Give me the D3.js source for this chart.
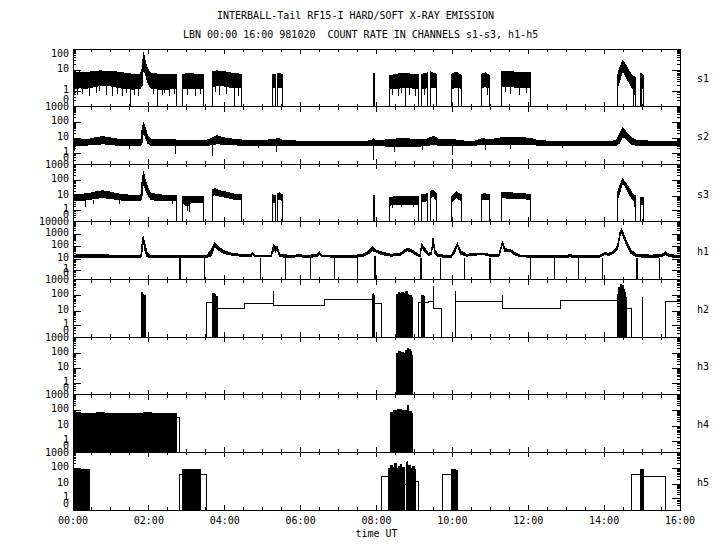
<!DOCTYPE html>
<html><head><meta charset="utf-8">
<script src="https://cdn.jsdelivr.net/npm/d3@7"></script>
<style>
body{margin:0;background:#fff}
text{font-family:"DejaVu Sans Mono","Liberation Mono",monospace;font-size:10px;fill:#000;white-space:pre}
</style>
</head><body><svg id="c" width="720" height="550"></svg>
<script>
// ---------------- data ----------------
const titleLine1 = "INTERBALL-Tail RF15-I HARD/SOFT X-RAY EMISSION";
const titleLine2 = "LBN 00:00 16:00 981020  COUNT RATE IN CHANNELS s1-s3, h1-h5";
const xTickLabels = ["00:00","02:00","04:00","06:00","08:00","10:00","12:00","14:00","16:00"];
const xTitle = "time UT";
const panelNames = ["s1","s2","s3","h1","h2","h3","h4","h5"];
const panelTops = [100,1000,1000,10000,1000,1000,1000,1000];

// band segments: [hour, low, high]
const s1Bands = [
 [[0,1.3,8],[0.18,1.5,9],[0.33,1.4,8],[0.53,1.7,9.5],[0.73,2,10],[0.93,2,9.5],[1.13,1.7,9],[1.33,1.4,8],[1.57,1.3,7],[1.77,1.4,7],[1.82,2,12],[1.86,20,70],[1.9,8,30],[1.97,3,12],[2.04,1.5,8],[2.27,1.3,7],[2.52,1.3,7],[2.74,1.4,7]],
 [[2.88,1.3,7],[3.07,1.4,7.5],[3.27,1.4,7],[3.44,1.4,7]],
 [[3.67,1.6,9],[3.79,2,10],[3.97,1.9,9.5],[4.17,1.6,8],[4.43,1.5,7]],
 [[5.26,1.6,7],[5.35,1.6,7]],
 [[5.38,1.6,8],[5.52,1.5,7]],
 [[7.91,2,8],[7.95,2,8]],
 [[8.34,1.3,6],[8.52,1.4,7],[8.72,1.6,8],[8.92,1.5,7],[9.1,1.4,7]],
 [[9.19,1.4,7],[9.34,1.5,8]],
 [[9.43,1.6,9],[9.57,1.5,7]],
 [[9.99,1.4,7],[10.12,1.7,9],[10.23,1.4,6]],
 [[10.76,1.6,7],[10.87,1.7,8],[10.98,1.5,6]],
 [[11.29,1.7,9],[11.57,1.7,9],[11.82,1.6,8.5],[12.07,1.6,8]],
 [[14.35,1.5,6],[14.42,4,15],[14.49,10,30],[14.56,6,20],[14.65,3,10],[14.74,1.5,6],[14.83,1.3,5]],
 [[14.95,1.5,8],[15.04,1.3,6]]
];
const s1Drops = [[0.05,1.3,0.7],[0.11,1.4,0.6],[0.25,1.4,0.7],[0.43,1.4,0.5],[0.63,1.7,0.8],[0.7,2,1],[0.88,2,0.6],[1.03,1.7,0.5],[1.18,1.7,0.7],[1.31,1.4,0.5],[1.4,1.3,0.8],[1.52,1.3,0],[1.62,1.3,0.6],[1.72,1.4,0.5],[2.12,1.4,0.7],[2.22,1.3,0],[2.37,1.3,0.6],[2.4,1.3,0.8],[2.55,1.3,0.5],[2.67,1.4,0.7],[3.02,1.3,0.6],[3.22,1.4,0.5],[3.35,1.4,0.7],[3.75,2,0.9],[3.87,1.9,0.6],[4.05,1.9,0.7],[4.27,1.6,0],[4.37,1.5,0.5],[8.42,1.3,0.6],[8.59,1.4,0.5],[8.65,1.4,0.8],[8.77,1.6,0],[8.87,1.5,0.6],[9.04,1.4,0.5],[9.27,1.4,0.6],[10.17,1.4,0],[10.92,1.6,0.6],[11.4,1.7,0.9],[11.52,1.7,0.7],[11.77,1.6,0.6],[11.95,1.6,0.8],[14.77,1.5,0],[14.8,1.4,0.6],[14.99,1.5,0]];

const s2Bands = [[
 [0,3.5,8],[0.23,3.5,8],[0.43,3.8,9],[0.58,4,11],[0.78,4.5,13],[0.98,4,11],[1.18,3.6,9],[1.38,3.4,8],[1.6,3.3,8],[1.79,3.4,8],[1.82,5,35],[1.86,35,110],[1.9,14,50],[1.97,5,14],[2.05,3.6,9],[2.27,3.5,8],[2.52,3.4,8],[2.69,3.2,8],[2.87,3.5,7.5],[3.17,3.5,7.5],[3.52,3.5,7.5],[3.71,4,12],[3.79,4.5,15],[3.97,4.2,11],[4.22,3.8,9],[4.57,3.6,7.5],[5.07,3.7,7.5],[5.32,3.5,9],[5.42,3.4,10],[5.52,3.7,7.5],[6.07,3.6,6.5],[6.57,3.6,6.5],[7.07,3.6,6.5],[7.57,3.6,6.5],[7.87,3.6,7],[7.92,3.5,10],[7.99,3.6,7],[8.34,3,8.5],[8.57,2.8,9.5],[8.82,2.8,9.5],[9.07,3,8.5],[9.32,3.5,9],[9.52,4,14],[9.62,3.6,9],[9.87,3.4,8.5],[10.01,3.2,9],[10.17,3.6,7],[10.57,3.6,6.5],[10.8,4,10],[10.97,3.8,8],[11.29,4,11],[11.67,4,11],[12.07,4,10.5],[12.27,3.6,7],[12.87,3.6,6.5],[13.47,3.6,6.5],[14.07,3.6,6.5],[14.32,3.6,7],[14.4,5,18],[14.49,14,50],[14.58,9,25],[14.7,4.5,12],[14.84,3.6,8],[15.04,3.5,7],[15.4,3.4,6.5],[15.8,3.4,6.5],[16,3.5,7]
]];
const s2Drops = [[0.05,3.5,1.5],[1.5,3.3,2],[2.69,3.2,0.9],[3.69,3.5,0.6],[4.9,3.6,2.2],[5.37,3.5,1.3],[7.92,3.5,0.2],[8.47,2.8,1.3],[9.2,3,1.8],[10.01,3.2,0.7],[10.87,3.8,1.8],[11.52,4,2],[12.9,3.6,2.4]];

const s3Bands = [
 [[0,5,12],[0.23,5,13],[0.43,6,15],[0.58,7,18],[0.78,8,22],[0.98,7,18],[1.18,6,14],[1.38,5,12],[1.6,5,11],[1.79,5,11],[1.82,10,80],[1.86,100,350],[1.9,30,120],[1.97,12,35],[2.05,6,15],[2.27,5,12],[2.52,5,11],[2.74,5,11]],
 [[2.88,4,10],[3.02,2,9],[3.12,4,10],[3.44,4,10]],
 [[3.67,10,25],[3.73,12,30],[3.87,10,22],[4.07,8,17],[4.27,6,13],[4.43,6,12]],
 [[5.26,4,12],[5.35,4,10]],
 [[5.38,6,15],[5.45,6,16],[5.52,5,12]],
 [[7.91,4,12],[7.95,4,10]],
 [[8.34,2.5,8],[8.57,3,10],[8.82,3,10],[9.1,3,10]],
 [[9.19,4,12],[9.34,5,14]],
 [[9.43,8,20],[9.49,10,25],[9.57,6,15]],
 [[9.99,4,10],[10.11,8,18],[10.23,5,12]],
 [[10.76,6,13],[10.87,6,14],[10.98,6,12]],
 [[11.29,8,18],[11.57,7,16],[11.82,7,14],[12.07,6,13]],
 [[14.35,6,15],[14.42,20,50],[14.49,70,120],[14.56,40,70],[14.65,15,35],[14.74,6,15],[14.83,4,10]],
 [[14.95,3,8],[15.04,3,8]]
];
const s3Drops = [[0.33,5,2],[0.53,6,3],[1.23,6,3],[2.62,5,3],[3.02,2,1],[3.07,3,0.8],[8.42,2.5,1.5],[8.67,3,2],[8.97,3,1.8],[14.8,4,2]];

const h1Bands = [[
 [0,14,22],[0.53,15,24],[1.03,14,22],[1.57,14,22],[1.79,14,22],[1.82,40,200],[1.85,400,800],[1.89,60,200],[1.95,16,40],[2.02,14,22],[2.57,14,22],[3.07,14,22],[3.52,14,20],[3.65,20,60],[3.73,120,200],[3.82,60,110],[3.97,30,50],[4.17,22,32],[4.47,17,24],[4.69,17,24],[4.74,25,35],[4.79,16,22],[5.22,16,22],[5.29,60,150],[5.34,40,90],[5.38,60,120],[5.45,16,26],[5.77,14,20],[6.01,18,26],[6.07,14,20],[6.42,16,24],[6.49,25,40],[6.55,16,22],[7.27,14,20],[7.62,16,24],[7.77,25,40],[7.89,50,100],[7.97,40,60],[8.12,25,40],[8.37,18,26],[8.62,20,30],[8.8,50,80],[8.92,40,60],[9.07,20,30],[9.15,16,22],[9.19,120,180],[9.27,40,80],[9.37,20,30],[9.45,25,40],[9.49,300,500],[9.54,30,60],[9.62,16,24],[9.97,14,20],[10.07,40,80],[10.13,130,200],[10.22,25,50],[10.37,18,26],[10.62,22,30],[10.82,25,32],[10.98,18,25],[11.22,16,22],[11.32,150,250],[11.39,40,70],[11.52,45,65],[11.62,25,40],[11.77,16,22],[12.37,14,20],[12.97,14,20],[13.12,16,24],[13.19,14,20],[13.87,14,20],[14.01,25,35],[14.12,20,30],[14.25,30,45],[14.35,60,120],[14.42,800,1500],[14.46,1500,2500],[14.52,500,1000],[14.61,100,200],[14.7,30,60],[14.85,16,24],[15.25,14,22],[15.52,16,24],[15.62,25,40],[15.72,16,24],[16,14,20]
]];
const h1Drops = [[2.81,14,0],[2.83,14,0],[3.46,14,0],[4.95,14,0],[5.61,14,0],[6.25,14,0],[6.88,14,0],[7.5,14,0],[7.95,20,0],[7.97,20,0],[9.16,14,0],[9.18,14,0],[9.68,14,0],[10.31,14,0],[10.98,14,0],[11.0,14,0],[12.07,14,0],[12.68,14,0],[13.32,14,0],[13.95,14,0],[14.85,14,0],[14.87,14,0],[15.45,14,0]];

// step lines [hour, value]; dense filled bursts [hour, value]; spikes [hour, from, to]
const h2Steps = [[0,0],[3.52,35],[3.8,15],[4.53,30],[5.28,25],[6.62,60],[7.95,30],[8.14,0],[9.1,35],[9.38,40],[9.49,15],[9.71,0],[10.09,40],[11.32,15],[12.86,50],[14.35,50],[14.59,15],[14.73,0],[15.61,40],[16,40]];
const h2Fills = [
 [[1.8,150],[1.83,120],[1.87,100],[1.91,0]],
 [[3.68,130],[3.72,110],[3.76,90],[3.8,0]],
 [[7.89,120],[7.93,100],[7.95,0]],
 [[8.53,120],[8.57,150],[8.6,0],[8.61,130],[8.67,160],[8.71,0],[8.72,140],[8.77,180],[8.82,120],[8.85,0],[8.86,100],[8.91,80],[8.95,0]],
 [[9.19,100],[9.23,90],[9.26,0]],
 [[14.35,120],[14.39,300],[14.43,500],[14.47,400],[14.51,250],[14.55,150],[14.57,80],[14.59,0]]
];
const h2Spikes = [[5.28,25,200],[7.92,30,150],[9.49,15,400],[10.09,40,200],[11.32,15,100],[15.0,0,80]];

const h3Steps = [[0,0],[16,0]];
const h3Fills = [
 [[8.53,100],[8.57,120],[8.62,90],[8.67,110],[8.71,0],[8.72,100],[8.76,0],[8.77,150],[8.81,200],[8.85,160],[8.89,120],[8.92,70],[8.94,0]]
];

const h4Steps = [[0,0],[2.74,40],[2.8,0],[8.79,8],[8.86,0],[16,0]];
const h4Fills = [
 [[0,75],[0.2,72],[0.43,70],[0.63,74],[0.83,70],[1.03,72],[1.23,68],[1.43,72],[1.67,70],[1.87,75],[2.07,72],[2.27,70],[2.47,68],[2.67,72],[2.74,0]],
 [[8.37,80],[8.43,0],[8.45,100],[8.55,120],[8.65,110],[8.73,100],[8.79,0]],
 [[8.83,200],[8.85,0],[8.86,90],[8.92,70],[8.95,0]]
];

const h5Steps = [[0,0],[2.82,40],[3.52,0],[8.14,30],[8.74,10],[8.8,15],[9.12,0],[9.73,40],[10.13,0],[14.73,40],[14.95,30],[15.61,0],[16,0]];
const h5Fills = [
 [[0,80],[0.1,85],[0.2,80],[0.3,85],[0.43,0]],
 [[2.88,80],[2.97,85],[3.07,80],[3.17,85],[3.27,80],[3.37,0]],
 [[8.31,100],[8.37,150],[8.41,0],[8.42,120],[8.47,200],[8.52,100],[8.57,0],[8.58,130],[8.63,180],[8.67,120],[8.74,0]],
 [[8.8,220],[8.83,150],[8.89,100],[8.95,130],[8.99,80],[9.04,0]],
 [[9.97,80],[10.02,90],[10.07,70],[10.13,0]],
 [[14.95,80],[15.0,90],[15.04,0]]
];
const h5Spikes = [[8.83,100,300]];

// ---------------- drawing ----------------
const X0 = 73, X1 = 680, TOP = 49, BOT = 510;
const ph = (BOT - TOP) / 8;
const x = d3.scaleLinear().domain([0, 16]).range([X0, X1]);
const svg = d3.select("#c");
svg.append("rect").attr("width", 720).attr("height", 550).attr("fill", "#fff");

svg.append("text").attr("x", 217).attr("y", 19).text(titleLine1);
svg.append("text").attr("x", 183).attr("y", 38).text(titleLine2);

const panels = [
 {bands: s1Bands, drops: s1Drops, edges: true},
 {bands: s2Bands, drops: s2Drops, edges: false},
 {bands: s3Bands, drops: s3Drops, edges: true},
 {bands: h1Bands, drops: h1Drops, edges: false},
 {steps: h2Steps, fills: h2Fills, drops: h2Spikes},
 {steps: h3Steps, fills: h3Fills},
 {steps: h4Steps, fills: h4Fills},
 {steps: h5Steps, fills: h5Fills, drops: h5Spikes}
];

const defs = svg.append("defs");

panels.forEach((p, i) => {
  const yTop = TOP + i * ph, yBot = yTop + ph;
  const top = panelTops[i];
  const y = d3.scaleSymlog().constant(0.25).domain([0, top]).range([yBot, yTop]);
  const cid = "clip" + i;
  defs.append("clipPath").attr("id", cid).append("rect")
    .attr("x", X0).attr("y", yTop).attr("width", X1 - X0).attr("height", ph);
  const g = svg.append("g").attr("clip-path", `url(#${cid})`)
    .attr("shape-rendering", "crispEdges");

  if (p.bands) {
    const area = d3.area().x(d => x(d[0])).y0(d => y(d[1])).y1(d => y(d[2]));
    p.bands.forEach(seg => {
      g.append("path").attr("d", area(seg)).attr("fill", "#000")
        .attr("stroke", "#000").attr("stroke-width", 1);
      if (p.edges) {
        [seg[0], seg[seg.length - 1]].forEach(d => {
          g.append("line").attr("x1", x(d[0])).attr("x2", x(d[0]))
            .attr("y1", y(0)).attr("y2", y(d[2])).attr("stroke", "#000");
        });
      }
    });
  }
  if (p.fills) {
    const farea = d3.area().curve(d3.curveStepAfter).x(d => x(d[0]))
      .y0(y(0)).y1(d => y(d[1]));
    p.fills.forEach(seg => {
      g.append("path").attr("d", farea(seg)).attr("fill", "#000")
        .attr("stroke", "#000").attr("stroke-width", 1);
    });
  }
  if (p.steps) {
    const sline = d3.line().curve(d3.curveStepAfter).x(d => x(d[0])).y(d => y(d[1]));
    g.append("path").attr("d", sline(p.steps)).attr("fill", "none")
      .attr("stroke", "#000").attr("stroke-width", 1);
  }
  if (p.drops) {
    p.drops.forEach(d => {
      g.append("line").attr("x1", x(d[0])).attr("x2", x(d[0]))
        .attr("y1", y(d[1])).attr("y2", y(d[2])).attr("stroke", "#000");
    });
  }

  // frame and ticks
  const a = svg.append("g").attr("shape-rendering", "crispEdges")
    .attr("stroke", "#000").attr("fill", "none");
  a.append("rect").attr("x", X0).attr("y", yTop).attr("width", X1 - X0).attr("height", ph);
  for (let t = 0; t <= 16; t += 0.5) {
    const len = (t % 2 === 0) ? 5 : 3;
    a.append("line").attr("x1", x(t)).attr("x2", x(t)).attr("y1", yTop).attr("y2", yTop + len);
    a.append("line").attr("x1", x(t)).attr("x2", x(t)).attr("y1", yBot).attr("y2", yBot - len);
  }
  const nDec = Math.round(Math.log10(top));
  const major = [], minor = [0.2, 0.4, 0.6, 0.8];
  for (let k = 0; k <= nDec; k++) major.push(Math.pow(10, k));
  for (let k = 0; k < nDec; k++) for (let m = 2; m <= 9; m++) minor.push(m * Math.pow(10, k));
  major.forEach(v => {
    a.append("line").attr("x1", X0).attr("x2", X0 + 8).attr("y1", y(v)).attr("y2", y(v));
    a.append("line").attr("x1", X1).attr("x2", X1 - 8).attr("y1", y(v)).attr("y2", y(v));
  });
  minor.forEach(v => {
    a.append("line").attr("x1", X0).attr("x2", X0 + 3).attr("y1", y(v)).attr("y2", y(v));
    a.append("line").attr("x1", X1).attr("x2", X1 - 3).attr("y1", y(v)).attr("y2", y(v));
  });

  // y labels
  const labVals = [0].concat(major);
  labVals.forEach(v => {
    let dy = -2;
    if (v === 0) dy = -7;
    if (v === top) dy = (i === 0) ? 4 : 0;
    svg.append("text").attr("x", 69).attr("y", y(v) + dy)
      .attr("text-anchor", "end").attr("dominant-baseline", "central")
      .text(String(v));
  });
  svg.append("text").attr("x", 697).attr("y", (yTop + yBot) / 2 + 1)
    .attr("dominant-baseline", "central").text(panelNames[i]);
});

xTickLabels.forEach((lab, j) => {
  svg.append("text").attr("x", x(j * 2)).attr("y", 524)
    .attr("text-anchor", "middle").text(lab);
});
svg.append("text").attr("x", x(8)).attr("y", 537).attr("text-anchor", "middle").text(xTitle);
</script>
</body></html>
